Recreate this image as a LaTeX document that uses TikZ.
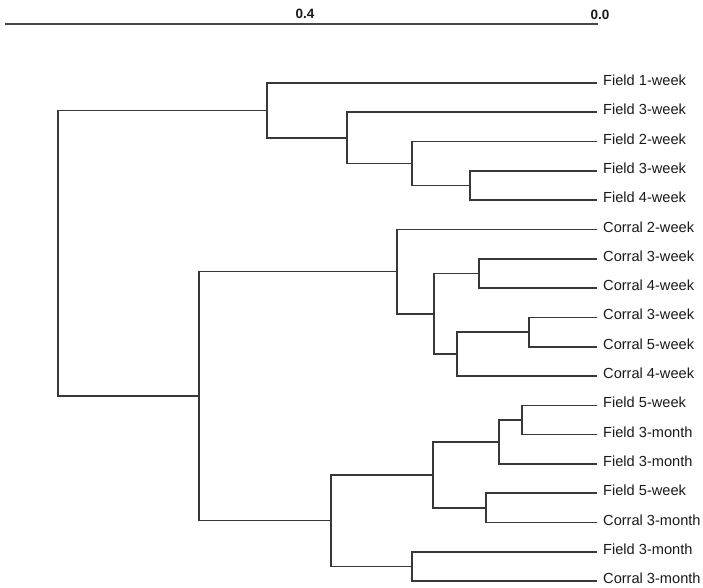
\documentclass[tikz,border=0pt]{standalone}
\usepackage{fontspec}
\setmainfont{Liberation Sans}
\usetikzlibrary{calc}

\tikzstyle{branch}=[draw,line width=1.6pt,black!78,-]
\tikzstyle{axisline}=[draw,line width=1.5pt,black!72,-]
\tikzstyle{leaf}=[anchor=base west,inner sep=0pt,xshift=6pt,yshift=-2.5pt,text=black!90,font=\fontsize{14.6}{16}\selectfont]
\tikzstyle{scalemark}=[inner sep=0pt,text=black!90,font=\bfseries\fontsize{13.5}{15}\selectfont]
\newcommand{\dgap}{29.3}
% join two clusters at height #2 (in px from the left)
\newcommand{\merge}[4]{%
    \path let \p1=($(#3)!0.5!(#4)$) in (#2pt,\y1) coordinate (#1);
    \path[branch] (#3) -| (#1) |- (#4);}

\begin{document}
\begin{tikzpicture}[x=1pt, y=-1pt]
    \useasboundingbox (0,0) rectangle (703,588);
    % First the scale on top
    \coordinate (ax0) at (5,24);
    \coordinate (ax1) at (598,24);
    \path[axisline] (ax0) -- (ax1);
    \node[scalemark] (s04) at (305,14) {0.4};
    \node[scalemark] (s00) at (600,14.5) {0.0};

    % Then the leaves with their labels
    \foreach \i/\name/\txt in {0/f1w/Field 1-week, 1/f3wa/Field 3-week, 2/f2w/Field 2-week,
        3/f3wb/Field 3-week, 4/f4w/Field 4-week, 5/c2w/Corral 2-week, 6/c3wa/Corral 3-week,
        7/c4wa/Corral 4-week, 8/c3wb/Corral 3-week, 9/c5w/Corral 5-week, 10/c4wb/Corral 4-week,
        11/f5wa/Field 5-week, 12/f3ma/Field 3-month, 13/f3mb/Field 3-month, 14/f5wb/Field 5-week,
        15/c3ma/Corral 3-month, 16/f3mc/Field 3-month, 17/c3mb/Corral 3-month}
    {
        \coordinate (\name) at (597, 83+\i*\dgap);
        \node[leaf] (\name-l) at (\name) {\txt};
    }

    % Field cluster
    \merge{A}{470}{f3wb}{f4w}
    \merge{B}{412}{f2w}{A}
    \merge{C}{347}{f3wa}{B}
    \merge{D}{267}{f1w}{C}
    % Corral cluster
    \merge{E}{479}{c3wa}{c4wa}
    \merge{F}{529}{c3wb}{c5w}
    \merge{G}{457}{F}{c4wb}
    \merge{H}{434}{E}{G}
    \merge{I}{397}{c2w}{H}
    % late samples
    \merge{J}{522}{f5wa}{f3ma}
    \merge{K}{499}{J}{f3mb}
    \merge{L}{486}{f5wb}{c3ma}
    \merge{M}{433}{K}{L}
    \merge{N}{412}{f3mc}{c3mb}
    \merge{O}{331}{M}{N}
    \merge{P}{199}{I}{O}
    % root
    \merge{R}{58}{D}{P}
\end{tikzpicture}
\end{document}
